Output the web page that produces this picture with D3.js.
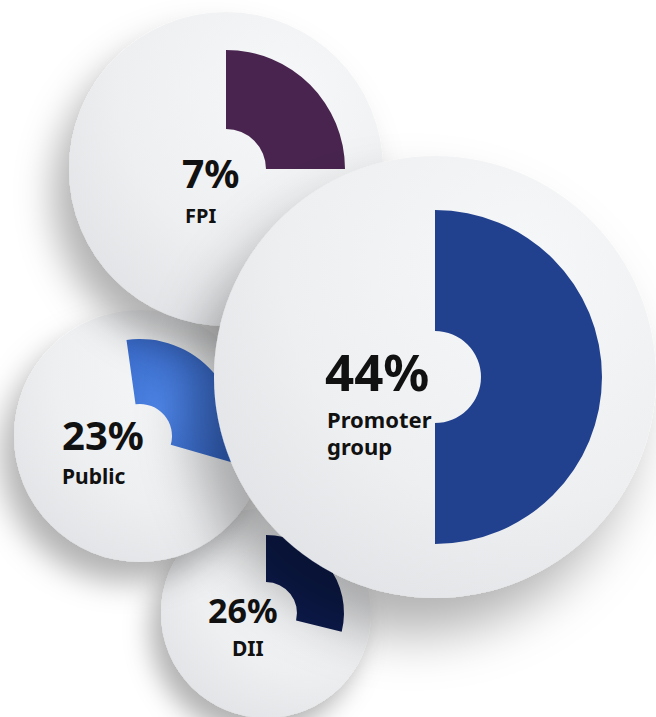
<!DOCTYPE html>
<meta charset="utf-8">
<style>
  body { margin: 0; background: #fff; }
  svg { display: block; }
  text { font-family: "Noto Sans", sans-serif; font-weight: 700; fill: #111; }
</style>
<div id="chart"></div>
<script src="https://cdn.jsdelivr.net/npm/d3@7"></script>
<script>

// shareholding, as printed on the picture
var labels = ["DII", "Public", "FPI", "Promoter group"];
var shares = [26, 23, 7, 44];
// arc sweep (degrees, clockwise from 12 o'clock) as drawn in the picture
var sweepStart = [0, -8, 0, 0];
var sweepEnd = [104, 106, 90, 180];
var colors = ["#0c1a4b", "#3f74d6", "#48244f", "#21418f"];

var width = 656, height = 717;

// bubble layout, back to front
var layout = [
    {cx: 266, cy: 613, r: 105, outer: 78,  inner: 31, pct: [208, 623, 34], lab: [[232, 656]], labSize: 21},
    {cx: 140, cy: 436, r: 126, outer: 97,  inner: 32, pct: [62, 450, 40],  lab: [[62, 484]], labSize: 21},
    {cx: 226, cy: 169, r: 157, outer: 119, inner: 40, pct: [182, 188, 39], lab: [[185, 223]], labSize: 20},
    {cx: 435, cy: 377, r: 221, outer: 167, inner: 46, pct: [325, 391, 51], lab: [[327, 428], [327, 455]], labSize: 22}
];

var angle = d3.scaleLinear().domain([0, 360]).range([0, 2 * Math.PI]);

var svg = d3.select("#chart").append("svg")
    .attr("width", width)
    .attr("height", height);

var defs = svg.append("defs");

var grad = defs.append("radialGradient")
    .attr("id", "disc")
    .attr("cx", "70%").attr("cy", "25%").attr("r", "90%");
grad.append("stop").attr("offset", "0%").attr("stop-color", "#f6f7f8");
grad.append("stop").attr("offset", "60%").attr("stop-color", "#eeeff1");
grad.append("stop").attr("offset", "100%").attr("stop-color", "#dfe1e4");

var pub = defs.append("radialGradient")
    .attr("id", "pubGrad")
    .attr("cx", "30%").attr("cy", "55%").attr("r", "70%");
pub.append("stop").attr("offset", "0%").attr("stop-color", "#4d84e6");
pub.append("stop").attr("offset", "100%").attr("stop-color", "#3565c4");

layout.forEach(function (l, i) {
    var f = defs.append("filter")
        .attr("id", "shadow" + i)
        .attr("x", "-60%").attr("y", "-60%")
        .attr("width", "220%").attr("height", "220%");
    f.append("feDropShadow")
        .attr("dx", -l.r * 0.1)
        .attr("dy", l.r * 0.16)
        .attr("stdDeviation", l.r * 0.12)
        .attr("flood-color", "#000")
        .attr("flood-opacity", 0.3);
});

var arc = d3.arc();

var bubble = svg.selectAll("g.bubble")
    .data(labels)
    .enter().append("g")
    .attr("class", "bubble");

bubble.append("circle")
    .attr("cx", function (d, i) { return layout[i].cx; })
    .attr("cy", function (d, i) { return layout[i].cy; })
    .attr("r", function (d, i) { return layout[i].r; })
    .attr("fill", "url(#disc)")
    .attr("filter", function (d, i) { return "url(#shadow" + i + ")"; });

bubble.append("path")
    .attr("transform", function (d, i) { return "translate(" + layout[i].cx + "," + layout[i].cy + ")"; })
    .attr("d", function (d, i) {
        return arc({
            innerRadius: layout[i].inner,
            outerRadius: layout[i].outer,
            startAngle: angle(sweepStart[i]),
            endAngle: angle(sweepEnd[i])
        });
    })
    .attr("fill", function (d, i) { return d === "Public" ? "url(#pubGrad)" : colors[i]; });

bubble.append("text")
    .attr("x", function (d, i) { return layout[i].pct[0]; })
    .attr("y", function (d, i) { return layout[i].pct[1]; })
    .attr("font-size", function (d, i) { return layout[i].pct[2]; })
    .text(function (d, i) { return shares[i] + "%"; });

bubble.each(function (d, i) {
    var words = d === "Promoter group" ? ["Promoter", "group"] : [d];
    var g = d3.select(this);
    words.forEach(function (w, k) {
        g.append("text")
            .attr("x", layout[i].lab[k][0])
            .attr("y", layout[i].lab[k][1])
            .attr("font-size", layout[i].labSize)
            .text(w);
    });
});

</script>
